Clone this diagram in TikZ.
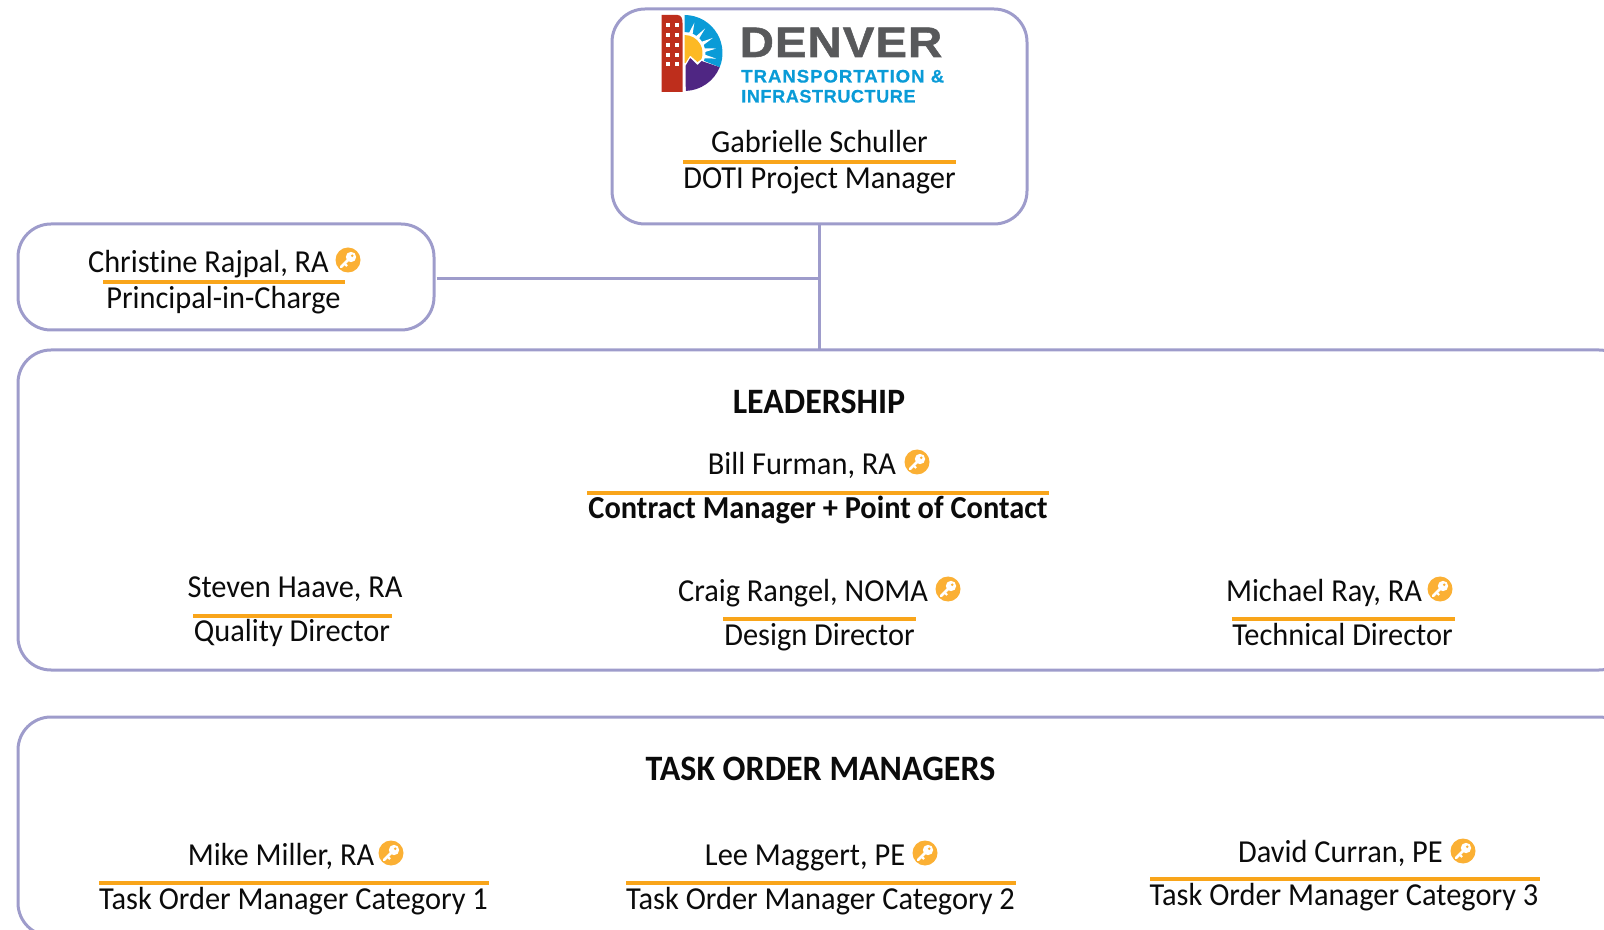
\documentclass[tikz,border=0pt]{standalone}
\usepackage{fontspec}
\setmainfont[FakeStretch=0.95,Ligatures=NoCommon]{Carlito}
\newfontfamily\logofont[LetterSpace=2.4,FakeStretch=1.11,FakeBold=1.2]{Liberation Sans Bold}
\newfontfamily\logosmall[LetterSpace=5,FakeStretch=1.03,FakeBold=0.6]{Liberation Sans Bold}
\newfontfamily\logosmaller[LetterSpace=3,FakeStretch=1.0,FakeBold=0.6]{Liberation Sans Bold}
\definecolor{boxline}{HTML}{9E9CCB}
\definecolor{rulecol}{HTML}{F9A51A}
\definecolor{keycol}{HTML}{FBB034}
\definecolor{inkcol}{HTML}{0B0B0B}
\definecolor{logogray}{HTML}{58595B}
\definecolor{logoblue}{HTML}{0A9BD7}
\definecolor{logored}{HTML}{BE2E1C}
\definecolor{logopurple}{HTML}{4F2683}
\definecolor{logoyellow}{HTML}{FDB924}
\tikzset{
  panel/.style={draw=boxline,line width=2.25pt,rounded corners=24.75pt,fill=none,inner sep=0pt,outer sep=0pt},
  link/.style={draw=boxline,line width=2.25pt},
  person/.style={anchor=base,inner sep=0pt,text=inkcol,font=\fontsize{24pt}{26pt}\selectfont},
  strongtext/.style={person,font=\fontsize{24pt}{26pt}\selectfont\bfseries},
  heading/.style={person,font=\fontsize{26.8pt}{28pt}\selectfont\bfseries},
  rulebar/.style={draw=rulecol,line width=2.4pt},
  logotext/.style={anchor=base west,inner sep=0pt},
  keyicon/.pic={
    \fill[keycol] (0,0) circle[radius=12.5];
    \draw[white,line width=2.1pt,line cap=round] (2,-2) -- (-7,7);
    \draw[white,line width=1.6pt] (-3.5,3.5) -- (-1,6);
    \fill[white] (3,-3) circle[radius=5.2];
    \fill[keycol] (4.2,-4.2) circle[radius=1.4];
  }
}
\begin{document}
\begin{tikzpicture}[x=0.75pt,y=-0.75pt]
\useasboundingbox (0,0) rectangle (1604,930);
% panels
\node[panel,minimum width=311.25pt,minimum height=161.25pt] (top) at (819.5,116.5) {};
\node[panel,minimum width=312pt,minimum height=79.5pt] (chris) at (226,277) {};
\node[panel,minimum width=1210.5pt,minimum height=240pt] (lead) at (825,510) {};
\node[panel,minimum width=1210.5pt,minimum height=164.25pt] (task) at (825,826.5) {};
% connectors
\coordinate (chrisout) at ([yshift=-1.2pt,xshift=2pt]chris.east);
\draw[link] (top.south) -- (top.south |- lead.north);
\draw[link] (chrisout) -- (chrisout -| top.south);
% logo
\begin{scope}[shift={(684.5,53)},x=0.75pt,y=0.75pt]
  \fill[logoblue] (90:38) arc[start angle=90,end angle=-22,radius=38] -- (-22:21) arc[start angle=-22,end angle=90,radius=21] -- cycle;
  \foreach \a in {72,50,28,8,-10}{\fill[white] (\a+6:19.5) -- (\a:32) -- (\a-6:19.5) -- cycle;}
  \fill[logoyellow] (0,18) arc[start angle=90,end angle=-20,radius=18] -- (13,-9) -- (5.7,-2.5) -- (1,-10) -- (0,-10) -- cycle;
  \fill[logopurple] (1,-13) -- (5.7,-5) -- (13,-12) -- (17,-8) -- (35.2,-14.2) arc[start angle=-22,end angle=-88,radius=38] -- cycle;
  \fill[logored] (-23,38) -- (-7,38) .. controls (-3,38) and (-2,34) .. (-2,30) -- (-2,-39) -- (-23,-39) -- cycle;
  \foreach \wy in {28,18,8,-2,-11}{\foreach \wx in {-17,-8}{\fill[white] (\wx-2,\wy-2) rectangle (\wx+2,\wy+2);}}
\end{scope}
\node[logotext,text=logogray,font=\logofont\fontsize{32pt}{34pt}\selectfont] (lgo1) at (739.5,57) {DENVER};
\node[logotext,text=logoblue,font=\logosmall\fontsize{13.6pt}{15pt}\selectfont] (lgo2) at (741,82.5) {TRANSPORTATION \&};
\node[logotext,text=logoblue,font=\logosmaller\fontsize{13.6pt}{15pt}\selectfont] (lgo3) at (741,102.5) {INFRASTRUCTURE};
% top box
\node[person] (gs) at (819.5,153) {Gabrielle Schuller};
\draw[rulebar] (683,162) -- (956,162);
\node[person] (gst) at (819.5,189) {DOTI Project Manager};
% Christine
\node[person] (cr) at (208.5,273) {Christine Rajpal, RA};
\pic at (348,260) {keyicon};
\draw[rulebar] (103,282) -- (345,282);
\node[person] (crt) at (223.5,309) {Principal-in-Charge};
% Leadership
\node[heading] (lh) at (819,413.5) {LEADERSHIP};
\node[person] (bf) at (802,475) {Bill Furman, RA};
\pic at (917,462) {keyicon};
\draw[rulebar] (587,493) -- (1049,493);
\node[strongtext] (bft) at (818,518) {Contract Manager + Point of Contact};
\node[person] (sh) at (295,597) {Steven Haave, RA};
\draw[rulebar] (193,616) -- (392,616);
\node[person] (sht) at (292,641) {Quality Director};
\node[person] (cg) at (803,601) {Craig Rangel, NOMA};
\pic at (948,589) {keyicon};
\draw[rulebar] (723,619) -- (916,619);
\node[person] (cgt) at (819.5,645) {Design Director};
\node[person] (mr) at (1324,601) {Michael Ray, RA};
\pic at (1440,589) {keyicon};
\draw[rulebar] (1232,619) -- (1455,619);
\node[person] (mrt) at (1342.5,645) {Technical Director};
% Task order managers
\node[heading] (th) at (820.5,780) {TASK ORDER MANAGERS};
\node[person] (mm) at (281,865) {Mike Miller, RA};
\pic at (391,853) {keyicon};
\draw[rulebar] (99,883) -- (489,883);
\node[person] (mmt) at (293.5,909) {Task Order Manager Category 1};
\node[person] (lm) at (805,865) {Lee Maggert, PE};
\pic at (925,853) {keyicon};
\draw[rulebar] (626,883) -- (1016,883);
\node[person] (lmt) at (820.5,909) {Task Order Manager Category 2};
\node[person] (dc) at (1340.5,862) {David Curran, PE};
\pic at (1463,851) {keyicon};
\draw[rulebar] (1150,879) -- (1540,879);
\node[person] (dct) at (1344,905) {Task Order Manager Category 3};
\end{tikzpicture}
\end{document}
